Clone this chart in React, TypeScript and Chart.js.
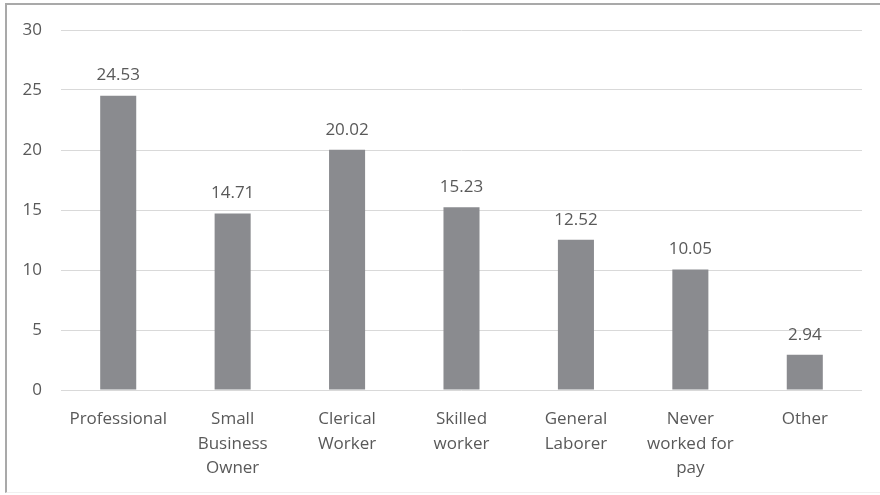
import React, { useEffect, useRef } from "react";
import { Chart, registerables } from "chart.js";

Chart.register(...registerables);

const categories: string[][] = [
  ["Professional"],
  ["Small", "Business", "Owner"],
  ["Clerical", "Worker"],
  ["Skilled", "worker"],
  ["General", "Laborer"],
  ["Never", "worked for", "pay"],
  ["Other"],
];
const values: number[] = [24.53, 14.71, 20.02, 15.23, 12.52, 10.05, 2.94];
const yMin = 0;
const yMax = 30;
const yStep = 5;

const FONT = "'Open Sans', sans-serif";
const TEXT = "#595959";

const valueLabels = {
  id: "valueLabels",
  afterDatasetsDraw(chart: any) {
    const ctx = chart.ctx;
    const meta = chart.getDatasetMeta(0);
    ctx.save();
    ctx.fillStyle = TEXT;
    ctx.font = `17px ${FONT}`;
    ctx.textAlign = "center";
    ctx.textBaseline = "middle";
    meta.data.forEach((el: any, i: number) => {
      ctx.fillText(values[i].toFixed(2), el.x, el.y - 20);
    });
    ctx.restore();
  },
};

export default function App() {
  const ref = useRef<HTMLCanvasElement>(null);
  useEffect(() => {
    document.body.style.margin = "0";
    const chart = new Chart(ref.current!, {
      type: "bar",
      data: {
        labels: categories,
        datasets: [
          {
            data: values,
            backgroundColor: "#8a8b8f",
            categoryPercentage: 1,
            barPercentage: 0.315,
          },
        ],
      },
      options: {
        animation: false,
        responsive: false,
        maintainAspectRatio: false,
        layout: { padding: { left: 0, right: 18, top: 30, bottom: 0 } },
        plugins: { legend: { display: false }, tooltip: { enabled: false } },
        scales: {
          x: {
            grid: { display: false },
            border: { display: false },
            ticks: {
              color: TEXT,
              font: { family: FONT, size: 17, lineHeight: 1.44 },
              padding: 9,
              maxRotation: 0,
              autoSkip: false,
            },
            afterFit: (s: any) => {
              s.height = 105;
            },
          },
          y: {
            min: yMin,
            max: yMax,
            grid: { color: "#d9d9d9", lineWidth: 1, drawTicks: false },
            border: { display: false },
            ticks: {
              stepSize: yStep,
              color: TEXT,
              font: { family: FONT, size: 17 },
              padding: 19,
            },
            afterFit: (s: any) => {
              s.width = 61;
            },
          },
        },
      },
      plugins: [valueLabels],
    });
    return () => chart.destroy();
  }, []);
  return (
    <div style={{ position: "relative", width: 880, height: 495, background: "#fff" }}>
      <canvas ref={ref} width={880} height={495} style={{ position: "absolute", left: 0, top: 0 }} />
      <div
        style={{
          position: "absolute",
          left: 5,
          top: 3,
          width: 875,
          height: 490,
          borderLeft: "2px solid #a9a9a9",
          borderTop: "2px solid #a9a9a9",
          borderBottom: "1px solid #f0f0f0",
          boxSizing: "border-box",
          pointerEvents: "none",
        }}
      />
    </div>
  );
}
